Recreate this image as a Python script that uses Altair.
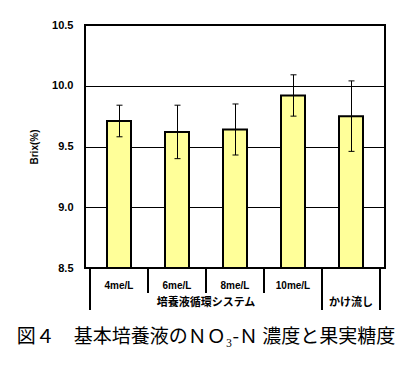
import altair as alt
import pandas as pd

# ---- data ----
conditions = ["4me/L", "6me/L", "8me/L", "10me/L", ""]
systems = ["培養液循環システム", "培養液循環システム", "培養液循環システム", "培養液循環システム", "かけ流し"]
brix = [9.71, 9.62, 9.64, 9.92, 9.75]
err = [0.13, 0.22, 0.21, 0.17, 0.29]
y_ticks = [8.5, 9.0, 9.5, 10.0, 10.5]
caption = "図４　基本培養液のＮＯ₃-Ｎ 濃度と果実糖度"
y_title = "Brix(%)"

n = len(conditions)
df = pd.DataFrame({
    "cond": conditions,
    "system": systems,
    "pos": [i + 0.5 for i in range(n)],
    "brix": brix,
    "lo": [b - e for b, e in zip(brix, err)],
    "hi": [b + e for b, e in zip(brix, err)],
})

# group spans
groups = []
for i, s in enumerate(systems):
    if groups and groups[-1]["system"] == s:
        groups[-1]["end"] = i + 1
    else:
        groups.append({"system": s, "start": i, "end": i + 1})
gdf = pd.DataFrame([{"system": g["system"], "mid": (g["start"] + g["end"]) / 2} for g in groups])

# separator boundaries
bounds = []
for b in range(n + 1):
    major = b == 0 or b == n or systems[b - 1] != systems[b]
    bounds.append({"b": b, "major": major})
bdf = pd.DataFrame(bounds)

W, H = 300, 243
FONT_NUM = "Liberation Sans"
FONT_JP = "Noto Sans CJK JP"

xs = alt.Scale(domain=[0, n], nice=False, zero=False)
ys = alt.Scale(domain=[y_ticks[0], y_ticks[-1]], nice=False, zero=False)

base = alt.Chart(df)

bars = base.mark_bar(size=24, color="#FFFF99", stroke="black", strokeWidth=2, opacity=1).encode(
    x=alt.X("pos:Q", scale=xs, axis=None),
    y=alt.Y("brix:Q", scale=ys, axis=alt.Axis(
        values=y_ticks, format=".1f", title=y_title, grid=True, gridColor="black",
        gridWidth=1, gridOpacity=1, domain=False, ticks=False,
        labelFont=FONT_NUM, labelFontSize=11, labelFontWeight="bold", labelColor="black",
        labelPadding=12, titleFont=FONT_NUM, titleFontSize=10, titleFontWeight="bold",
        titleColor="black", titlePadding=12)),
    y2=alt.datum(y_ticks[0]),
)

rules = base.mark_rule(color="black", strokeWidth=1, opacity=1, xOffset=0.5).encode(
    x=alt.X("pos:Q", scale=xs), y=alt.Y("lo:Q", scale=ys), y2="hi:Q")
cap_hi = base.mark_tick(color="black", thickness=1, size=6, orient="horizontal", opacity=1,
                        xOffset=0.5).encode(
    x=alt.X("pos:Q", scale=xs), y=alt.Y("hi:Q", scale=ys))
cap_lo = base.mark_tick(color="black", thickness=1, size=6, orient="horizontal", opacity=1,
                        xOffset=0.5).encode(
    x=alt.X("pos:Q", scale=xs), y=alt.Y("lo:Q", scale=ys))

sep_minor = alt.Chart(bdf).transform_filter("!datum.major").mark_rule(
    color="black", strokeWidth=2, opacity=1).encode(
    x=alt.X("b:Q", scale=xs), y=alt.value(H), y2=alt.value(H + 25))
sep_major = alt.Chart(bdf).transform_filter("datum.major").mark_rule(
    color="black", strokeWidth=2, opacity=1).encode(
    x=alt.X("b:Q", scale=xs), y=alt.value(H), y2=alt.value(H + 42))

cond_text = base.mark_text(font=FONT_NUM, fontSize=10, fontWeight="bold", color="black",
                           baseline="middle").encode(
    x=alt.X("pos:Q", scale=xs), y=alt.value(H + 18), text="cond:N")
grp_text = alt.Chart(gdf).mark_text(font=FONT_JP, fontSize=11, fontWeight="bold", color="black",
                                    baseline="middle").encode(
    x=alt.X("mid:Q", scale=xs), y=alt.value(H + 35), text="system:N")

cap_df = pd.DataFrame({"t": [caption]})
cap_text = alt.Chart(cap_df).mark_text(font=FONT_JP, fontSize=19, color="black",
                                       baseline="middle", align="center").encode(
    x=alt.value(121), y=alt.value(H + 69), text="t:N")

chart = alt.layer(bars, rules, cap_hi, cap_lo, sep_minor, sep_major, cond_text, grp_text, cap_text).properties(
    width=W, height=H, autosize="none", background="white",
    padding={"left": 85, "top": 25, "right": 28, "bottom": 108},
).configure_view(stroke="black", strokeWidth=2)

chart.save("out.html", embed_options={"renderer": "svg", "actions": False})
